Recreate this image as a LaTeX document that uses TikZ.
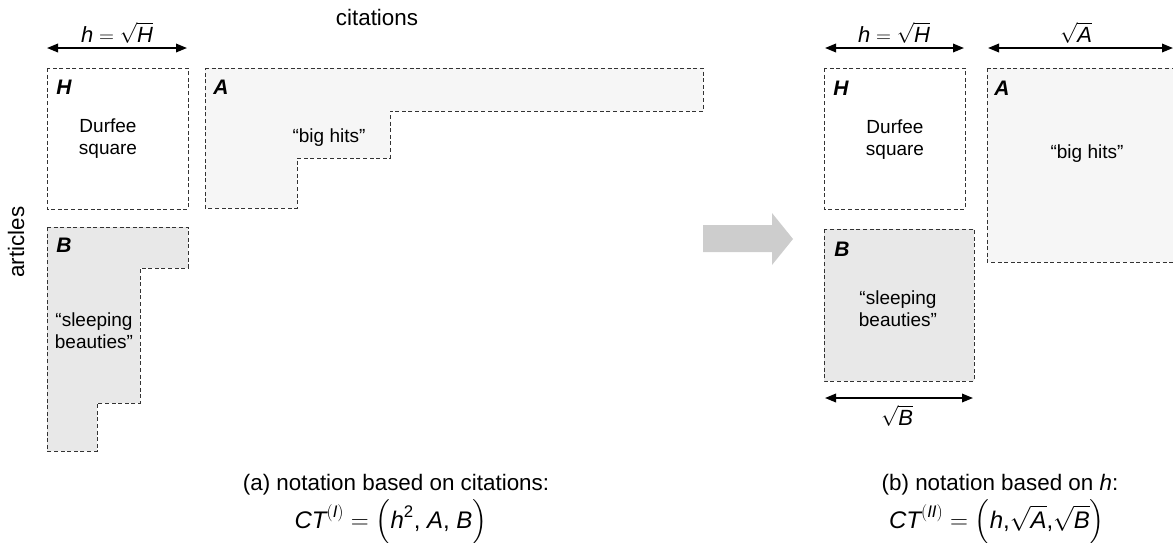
\documentclass[tikz,border=0pt]{standalone}
\usepackage{amsmath}
\usepackage{fontspec}
\setmainfont{Liberation Sans}
\usetikzlibrary{arrows.meta}
\newcommand{\mv}[1]{\text{\itshape #1}}
\definecolor{edgec}{HTML}{333333}
\definecolor{afill}{HTML}{F6F6F6}
\definecolor{bfill}{HTML}{E8E8E8}
\definecolor{bigarrow}{HTML}{CDCDCD}
\begin{document}
\begin{tikzpicture}[x=1pt,y=-1pt,
  region/.style={draw=edgec,line width=0.9pt,dash pattern=on 4pt off 2.6pt},
  dimarrow/.style={line width=1.8pt,{Triangle[length=11pt,width=8.5pt]}-{Triangle[length=11pt,width=8.5pt]}},
  boxtxt/.style={font=\fontsize{19}{22}\selectfont,align=center,inner sep=0pt},
  letter/.style={font=\fontsize{21}{24}\selectfont\bfseries\itshape,inner sep=0pt},
  dimlbl/.style={font=\fontsize{22}{24}\selectfont,inner sep=0pt},
  axis/.style={font=\fontsize{22.4}{26}\selectfont,inner sep=0pt},
  caption/.style={font=\fontsize{22.4}{26}\selectfont,inner sep=0pt,anchor=base},
  formula/.style={font=\fontsize{24}{26}\selectfont,inner sep=0pt,anchor=base}]
\useasboundingbox (0,0) rectangle (1173,542);

% ---------- left panel ----------
\node[axis,anchor=base] (cit) at (377,25) {citations};
\node[axis,rotate=90,anchor=base] (art) at (24,242) {articles};

\coordinate (hl1) at (47,48);
\coordinate (hl2) at (187,48);
\draw[dimarrow] (hl1) -- (hl2);
\node[dimlbl,anchor=base] (hlab) at (117,42) {$\mv{h} = \sqrt{\mv{H}}$};

% H box
\draw[region,fill=white] (47,68) rectangle (188,209);
\node[letter] (Hl) at (64,87) {H};
\node[boxtxt] (Hdl) at (108,139) {Durfee\\square};

% A region
\draw[region,fill=afill] (205,68) -- (703,68) -- (703,111) -- (390,111) -- (390,158)
  -- (297,158) -- (297,208) -- (205,208) -- cycle;
\node[letter] (Al) at (221,87) {A};
\node[boxtxt] (Abl) at (329,138) {``big hits''};

% B region
\draw[region,fill=bfill] (47,227) -- (188,227) -- (188,268) -- (140,268) -- (140,403)
  -- (97,403) -- (97,451) -- (47,451) -- cycle;
\node[letter] (Bl) at (64,245) {B};
\node[boxtxt] (Bsl) at (94,331) {``sleeping\\beauties''};

% caption (a)
\node[caption] (capa) at (396,490) {(a) notation based on citations:};
\node[formula] (fora) at (391,528) {$\mv{CT}^{(\mv{I})} = \smash{\Bigl(}\mv{h}^{\text{2}}\text{, }\mv{A}\text{, }\mv{B}\smash{\Bigr)}$};

% ---------- big arrow ----------
\fill[bigarrow] (703,225) -- (772,225) -- (772,213) -- (793,239) -- (772,265)
  -- (772,252) -- (703,252) -- cycle;

% ---------- right panel ----------
\coordinate (hr1) at (825,48);
\coordinate (hr2) at (964,48);
\draw[dimarrow] (hr1) -- (hr2);
\node[dimlbl,anchor=base] (hrlab) at (894,42) {$\mv{h} = \sqrt{\mv{H}}$};

\coordinate (ar1) at (988,48);
\coordinate (ar2) at (1173,48);
\draw[dimarrow] (ar1) -- (ar2);
\node[dimlbl,anchor=base] (arlab) at (1076,42) {$\sqrt{\mv{A}}$};

\draw[region,fill=white] (824,68) rectangle (965,209);
\node[letter] (Hr) at (841,88) {H};
\node[boxtxt] (Hdr) at (895,140) {Durfee\\square};

\draw[region,fill=afill] (987,68) rectangle (1181,262);
\node[letter] (Ar) at (1002,88) {A};
\node[boxtxt] (Abr) at (1087,154) {``big hits''};

\draw[region,fill=bfill] (824,229) rectangle (974,381);
\node[letter] (Br) at (842,249) {B};
\node[boxtxt] (Bsr) at (898,309) {``sleeping\\beauties''};

\coordinate (br1) at (825,398);
\coordinate (br2) at (973,398);
\draw[dimarrow] (br1) -- (br2);
\node[dimlbl,anchor=base] (brlab) at (897,425) {$\sqrt{\mv{B}}$};

% caption (b)
\node[caption] (capb) at (1000,490) {(b) notation based on \textit{h}:};
\node[formula] (forb) at (997,528) {$\mv{CT}^{(\mv{II})} = \smash{\Bigl(}\mv{h}\text{,}\sqrt{\mv{A}}\text{,}\sqrt{\mv{B}}\smash{\Bigr)}$};
\end{tikzpicture}
\end{document}
